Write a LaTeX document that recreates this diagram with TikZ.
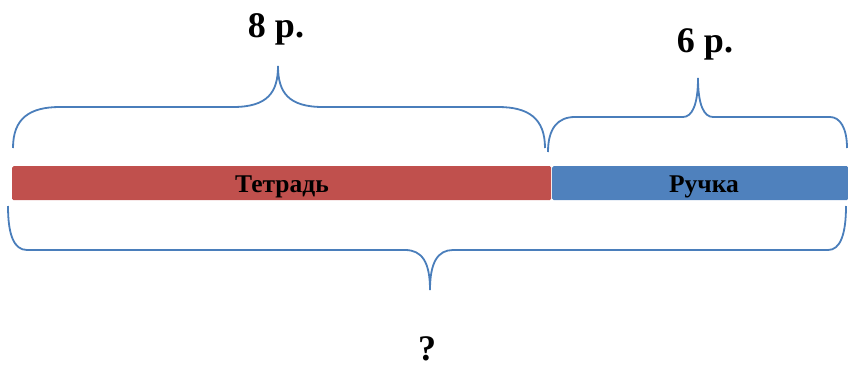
\documentclass[tikz,border=0pt]{standalone}
\usepackage{fontspec}
\setmainfont{Liberation Serif}
\definecolor{barred}{HTML}{C0504D}
\definecolor{barblue}{HTML}{4F81BD}
\definecolor{bracec}{HTML}{4A7EBB}
\tikzset{
  bar/.style={rectangle, rounded corners=1.5pt, inner sep=0pt, anchor=north west},
  brace/.style={draw=bracec, line width=1.8pt},
  bigtxt/.style={font=\fontsize{36}{40}\selectfont\bfseries, inner sep=0pt, anchor=base},
  bartxt/.style={font=\fontsize{25.5}{28}\selectfont\bfseries, inner sep=0pt, anchor=base},
}
\begin{document}
\begin{tikzpicture}[x=1pt,y=-1pt]
\useasboundingbox (0,0) rectangle (848,370);
% bars
\node (tetr) [bar, fill=barred, minimum width=539pt, minimum height=34pt] at (12,166) {};
\node (ruch) [bar, fill=barblue, minimum width=296pt, minimum height=34pt] at (552,166) {};
\node (tetrt) [bartxt] at (282,192) {Тетрадь};
\node (rucht) [bartxt] at (704,192) {Ручка};
% top brace 1
\draw[brace] (13,148) .. controls (13,118) and (30,107) .. (60,107)
  -- (233,107) .. controls (268,107) and (278,92) .. (278,66)
  .. controls (278,92) and (288,107) .. (323,107)
  -- (498,107) .. controls (528,107) and (545,118) .. (545,148);
% top brace 2
\draw[brace] (548,152) .. controls (548,128) and (558,117) .. (575,117)
  -- (683,117) .. controls (692,117) and (698,105) .. (698,78)
  .. controls (698,105) and (704,117) .. (713,117)
  -- (830,117) .. controls (840,117) and (847,128) .. (847,148);
% bottom brace
\draw[brace] (8,206) .. controls (8,235) and (14,250) .. (27,250)
  -- (405,250) .. controls (422,250) and (430,262) .. (430,290)
  .. controls (430,262) and (438,250) .. (453,250)
  -- (828,250) .. controls (840,250) and (846,235) .. (846,206);
% labels
\node (l8) [bigtxt] at (276,37) {8 р.};
\node (l6) [bigtxt] at (705,52) {6 р.};
\node (q) [bigtxt] at (427,360) {?};
\end{tikzpicture}
\end{document}
